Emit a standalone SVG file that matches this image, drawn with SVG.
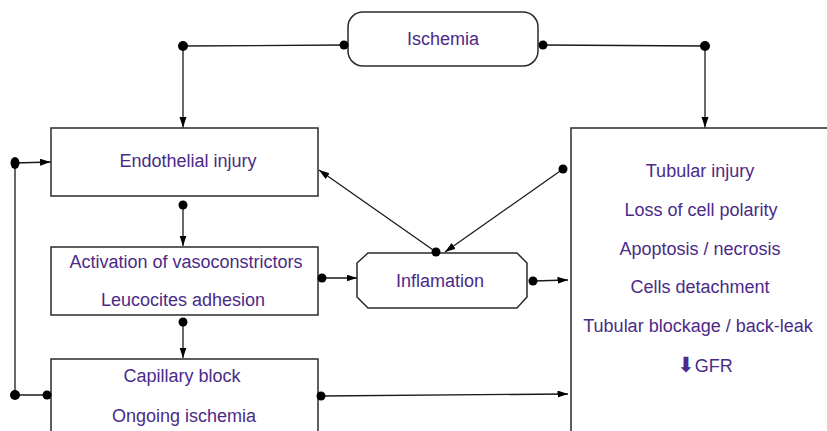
<svg xmlns="http://www.w3.org/2000/svg" width="827" height="431" viewBox="0 0 827 431">
<style>
.box{fill:#fff;stroke:#2a2a2a;stroke-width:1.5}
.t{font-family:"Liberation Sans",Arial,sans-serif;font-size:18px;fill:#4b2a88;text-anchor:middle}
.c{fill:none;stroke:#1a1a1a;stroke-width:1.3}
.d{fill:#000}
</style>
<defs>
<marker id="ah" markerUnits="userSpaceOnUse" markerWidth="11" markerHeight="8" refX="10.5" refY="3.5" orient="auto">
<path d="M0,0 L10.5,3.5 L0,7 z" fill="#000"/>
</marker>
</defs>
<rect width="827" height="431" fill="#fff"/>
<g id="ischemia">
<rect class="box" x="348" y="12" width="190" height="54" rx="15"/>
<text class="t" x="443" y="45">Ischemia</text>
</g>
<g id="endothelial">
<rect class="box" x="51" y="128" width="267" height="68"/>
<text class="t" x="188" y="167">Endothelial injury</text>
</g>
<g id="activation">
<rect class="box" x="51" y="247" width="267" height="68"/>
<text class="t" x="186" y="268">Activation of vasoconstrictors</text>
<text class="t" x="183" y="306">Leucocites adhesion</text>
</g>
<g id="capillary">
<rect class="box" x="51" y="359" width="267" height="80"/>
<text class="t" x="182" y="382">Capillary block</text>
<text class="t" x="184" y="422">Ongoing ischemia</text>
</g>
<g id="inflamation">
<polygon class="box" points="368,253 517,253 527,263 527,297 517,308 368,308 357,297 357,263"/>
<text class="t" x="440" y="287">Inflamation</text>
</g>
<g id="tubular">
<rect class="box" x="571" y="128" width="270" height="320"/>
<text class="t" x="700" y="177">Tubular injury</text>
<text class="t" x="701" y="216">Loss of cell polarity</text>
<text class="t" x="700" y="255">Apoptosis / necrosis</text>
<text class="t" x="700" y="293">Cells detachment</text>
<text class="t" x="698" y="332">Tubular blockage / back-leak</text>
<text class="t" x="705" y="372"><tspan font-family="'DejaVu Sans',sans-serif" font-size="21">⬇</tspan>GFR</text>
</g>
<g id="connectors">
<polyline class="c" points="344,45 183,46 183,127.5" marker-end="url(#ah)"/>
<polyline class="c" points="543,45 705,46 705,127.5" marker-end="url(#ah)"/>
<line class="c" x1="563" y1="169" x2="445" y2="252" marker-end="url(#ah)"/>
<line class="c" x1="436" y1="252" x2="319" y2="170" marker-end="url(#ah)"/>
<line class="c" x1="183" y1="205" x2="183" y2="246" marker-end="url(#ah)"/>
<line class="c" x1="322" y1="278" x2="357" y2="278" marker-end="url(#ah)"/>
<line class="c" x1="533" y1="281" x2="568" y2="280" marker-end="url(#ah)"/>
<line class="c" x1="183" y1="322" x2="183" y2="358" marker-end="url(#ah)"/>
<line class="c" x1="321" y1="396" x2="568" y2="394" marker-end="url(#ah)"/>
<polyline class="c" points="47,395 15,395 15,163 50.5,162" marker-end="url(#ah)"/>
<circle class="d" cx="344" cy="45" r="4.5"/>
<circle class="d" cx="183" cy="46" r="5"/>
<circle class="d" cx="543" cy="45" r="4.5"/>
<circle class="d" cx="705" cy="46" r="5"/>
<circle class="d" cx="563" cy="169" r="4.5"/>
<circle class="d" cx="436" cy="252" r="4.5"/>
<circle class="d" cx="183" cy="205" r="4.5"/>
<circle class="d" cx="322" cy="278" r="4.5"/>
<circle class="d" cx="533" cy="281" r="4.5"/>
<circle class="d" cx="183" cy="322" r="4.5"/>
<circle class="d" cx="321" cy="396" r="4.5"/>
<circle class="d" cx="47" cy="395" r="4.5"/>
<circle class="d" cx="15" cy="395" r="5"/>
<ellipse class="d" cx="15" cy="163" rx="4.5" ry="6"/>
</g>
</svg>
